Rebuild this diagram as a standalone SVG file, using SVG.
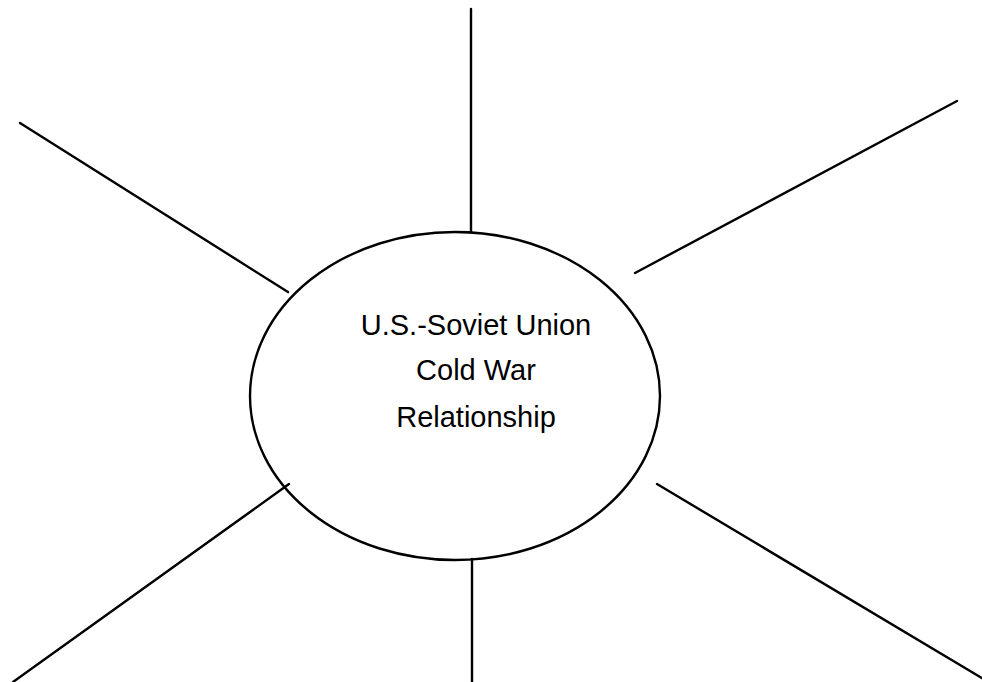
<svg xmlns="http://www.w3.org/2000/svg" width="982" height="682" viewBox="0 0 982 682">
<style>
.ln{stroke:#000;stroke-width:2.4;fill:none;stroke-linecap:round}
.lbl{font-family:"Liberation Sans",Arial,sans-serif;font-size:29px;fill:#000;text-anchor:middle}
</style>
<rect width="982" height="682" fill="#fff"/>
<g id="connectors">
<line class="ln" x1="471" y1="9" x2="471" y2="232"/>
<line class="ln" x1="20" y1="123" x2="288" y2="292"/>
<line class="ln" x1="957" y1="101" x2="635" y2="273"/>
<line class="ln" x1="289" y1="484" x2="13" y2="682"/>
<line class="ln" x1="657" y1="484" x2="985" y2="680"/>
<line class="ln" x1="472" y1="559" x2="472" y2="682"/>
</g>
<g id="center">
<ellipse class="ln" cx="455" cy="396" rx="205" ry="164"/>
<text class="lbl" x="476" y="335">U.S.-Soviet Union</text>
<text class="lbl" x="476" y="380">Cold War</text>
<text class="lbl" x="476" y="427">Relationship</text>
</g>
</svg>
